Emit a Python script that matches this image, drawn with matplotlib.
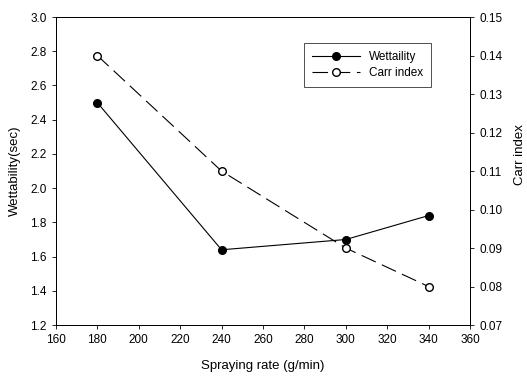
import matplotlib
matplotlib.use('Agg')
import matplotlib.pyplot as plt

plt.rcParams['font.family'] = ['Liberation Sans', 'DejaVu Sans']

rate = [180, 240, 300, 340]
wettability = [2.50, 1.64, 1.70, 1.84]
carr_index = [0.140, 0.110, 0.090, 0.080]

fig = plt.figure(figsize=(5.27, 3.78), dpi=100)
ax = fig.add_axes([0.106, 0.140, 0.786, 0.815])
ax2 = ax.twinx()

l1, = ax.plot(rate, wettability, color='black', linewidth=0.8, marker='o',
              markersize=5.5, markerfacecolor='black', label='Wettaility')
l2, = ax2.plot(rate, carr_index, color='black', linewidth=0.8, marker='o',
               markersize=5.5, markerfacecolor='white', dashes=(14, 6),
               label='Carr index')

ax.set_xlim(160, 360)
ax.set_ylim(1.2, 3.0)
ax2.set_ylim(0.07, 0.15)
ax.set_xticks(range(160, 361, 20))
ax.set_yticks([1.2, 1.4, 1.6, 1.8, 2.0, 2.2, 2.4, 2.6, 2.8, 3.0])
ax2.set_yticks([0.07, 0.08, 0.09, 0.10, 0.11, 0.12, 0.13, 0.14, 0.15])
ax.yaxis.set_major_formatter(matplotlib.ticker.FormatStrFormatter('%.1f'))
ax2.yaxis.set_major_formatter(matplotlib.ticker.FormatStrFormatter('%.2f'))

for a in (ax, ax2):
    a.tick_params(labelsize=8.5, length=3, width=0.6, direction='out')
    for s in a.spines.values():
        s.set_linewidth(0.7)

ax.set_xlabel('Spraying rate (g/min)', fontsize=9.5, labelpad=10)
ax.set_ylabel('Wettability(sec)', fontsize=9.5, labelpad=7)
# right label sits at the very edge, as in the source
fig.text(520 / 527, 1 - 155 / 378, 'Carr index', rotation=90, fontsize=9.5,
         ha='center', va='center')

leg = ax.legend(handles=[l1, l2], loc='upper left', bbox_to_anchor=(0.585, 0.935),
                fontsize=8.5, frameon=True, fancybox=False, edgecolor='black',
                handlelength=4, borderpad=0.7, labelspacing=0.3)
leg.get_frame().set_linewidth(0.6)

fig.savefig('out.png', dpi=100)
